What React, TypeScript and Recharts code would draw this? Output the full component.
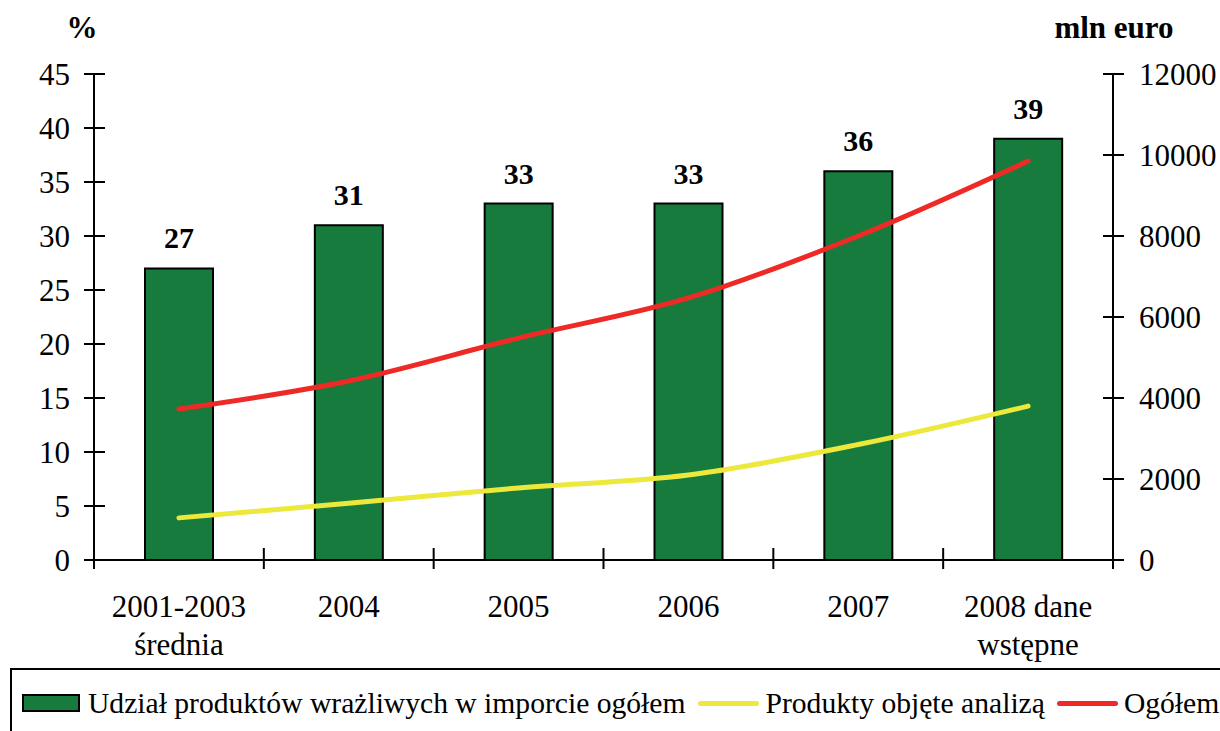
import React from "react";
import {
  ComposedChart,
  Bar,
  Line,
  XAxis,
  YAxis,
  LabelList,
  Legend,
} from "recharts";

const categoryLines = [
  ["2001-2003", "średnia"],
  ["2004"],
  ["2005"],
  ["2006"],
  ["2007"],
  ["2008 dane", "wstępne"],
];
const categories = categoryLines.map((l) => l.join(" "));

// % share of sensitive products in total imports (left axis)
const shareValues = [27, 31, 33, 33, 36, 39];
// mln euro (right axis)
const analysedValues = [1040, 1400, 1780, 2100, 2850, 3800];
const totalValues = [3730, 4420, 5480, 6470, 8000, 9850];

const leftTicks = [0, 5, 10, 15, 20, 25, 30, 35, 40, 45];
const rightTicks = [0, 2000, 4000, 6000, 8000, 10000, 12000];

const seriesNames = {
  share: "Udział produktów wrażliwych w imporcie ogółem",
  analysed: "Produkty objęte analizą",
  total: "Ogółem",
};

const data = categories.map((c, i) => ({
  category: c,
  share: shareValues[i],
  analysed: analysedValues[i],
  total: totalValues[i],
}));

const FONT = "'Times New Roman', 'Liberation Serif', serif";
const GREEN = "#167b3d";
const YELLOW = "#ece83c";
const RED = "#ee2a26";

const W = 1220;
const H = 731;
const PLOT_LEFT = 94;
const PLOT_RIGHT = 1113;
const BAND = (PLOT_RIGHT - PLOT_LEFT) / categories.length;

function LeftTick(props: any) {
  const { x, y, payload } = props;
  const ax = x + 24;
  return (
    <g>
      <line x1={ax - 10} x2={ax + 11} y1={y} y2={y} stroke="#000" strokeWidth={2} />
      <text x={x} y={y} dy={11} textAnchor="end" fontSize={31} fontFamily={FONT} fill="#000">
        {payload.value}
      </text>
    </g>
  );
}

function RightTick(props: any) {
  const { x, y, payload } = props;
  const ax = x - 26;
  return (
    <g>
      <line x1={ax - 10} x2={ax + 11} y1={y} y2={y} stroke="#000" strokeWidth={2} />
      <text x={x} y={y} dy={11} textAnchor="start" fontSize={31} fontFamily={FONT} fill="#000">
        {payload.value}
      </text>
    </g>
  );
}

function CategoryTick(props: any) {
  const { x, y, index } = props;
  const lines = categoryLines[index] || [];
  const last = index === categories.length - 1;
  return (
    <g>
      <line x1={x - BAND / 2} x2={x - BAND / 2} y1={y - 12} y2={y + 9} stroke="#000" strokeWidth={2} />
      {last && (
        <line x1={x + BAND / 2} x2={x + BAND / 2} y1={y - 12} y2={y + 9} stroke="#000" strokeWidth={2} />
      )}
      <text x={x} y={y + 57} textAnchor="middle" fontSize={31} fontFamily={FONT} fill="#000">
        {lines.map((l, i) => (
          <tspan key={i} x={x} dy={i === 0 ? 0 : 38}>
            {l}
          </tspan>
        ))}
      </text>
    </g>
  );
}

function AxisTitle(props: any) {
  const { viewBox, value, side } = props;
  const x = side === "left" ? viewBox.x + viewBox.width - 12 : viewBox.x + 1;
  return (
    <text x={x} y={viewBox.y - 36} textAnchor="middle" fontSize={31} fontWeight="bold" fontFamily={FONT} fill="#000">
      {value}
    </text>
  );
}

function LegendBox() {
  const text: React.CSSProperties = { fontSize: 29.6, fontFamily: FONT, color: "#000", lineHeight: "30px" };
  const lineSwatch = (color: string): React.CSSProperties => ({
    display: "inline-block",
    width: 61,
    height: 5,
    borderRadius: 3,
    background: color,
    marginRight: 6,
  });
  return (
    <div
      style={{
        boxSizing: "border-box",
        width: 1230,
        height: 80,
        border: "2px solid #000",
        display: "flex",
        alignItems: "center",
        paddingLeft: 10,
        paddingBottom: 30,
        paddingTop: 20,
      }}
    >
      <span
        style={{
          display: "inline-block",
          width: 58,
          height: 18,
          boxSizing: "border-box",
          background: GREEN,
          border: "2px solid #000",
          marginRight: 8,
        }}
      />
      <span style={text}>{seriesNames.share}</span>
      <span style={{ width: 13 }} />
      <span style={lineSwatch(YELLOW)} />
      <span style={text}>{seriesNames.analysed}</span>
      <span style={{ width: 12 }} />
      <span style={lineSwatch(RED)} />
      <span style={text}>{seriesNames.total}</span>
    </div>
  );
}

function AxisTitleWrap(props: any) {
  return <AxisTitle {...props} />;
}

export default function App() {
  return (
    <div style={{ position: "absolute", left: 0, top: 0, width: W, height: H, background: "#fff", overflow: "hidden" }}>
      <ComposedChart
        width={W}
        height={H}
        data={data}
        margin={{ top: 74, left: PLOT_LEFT - 60, right: W - PLOT_RIGHT - 80, bottom: 111 }}
      >
        <XAxis
          dataKey="category"
          xAxisId="x"
          height={60}
          interval={0}
          tickSize={0}
          tickMargin={0}
          tick={<CategoryTick />}
          axisLine={{ stroke: "#000", strokeWidth: 2 }}
        />
        <YAxis
          yAxisId="left"
          orientation="left"
          width={60}
          domain={[0, 45]}
          ticks={leftTicks}
          interval={0}
          tickSize={0}
          tickMargin={24}
          tick={<LeftTick />}
          axisLine={{ stroke: "#000", strokeWidth: 2 }}
          label={<AxisTitleWrap value="%" side="left" />}
        />
        <YAxis
          yAxisId="right"
          orientation="right"
          width={80}
          domain={[0, 12000]}
          ticks={rightTicks}
          interval={0}
          tickSize={0}
          tickMargin={26}
          tick={<RightTick />}
          axisLine={{ stroke: "#000", strokeWidth: 2 }}
          label={<AxisTitleWrap value="mln euro" side="right" />}
        />
        <Bar
          xAxisId="x"
          yAxisId="left"
          dataKey="share"
          name={seriesNames.share}
          barSize={68}
          fill={GREEN}
          stroke="#000"
          strokeWidth={2}
          isAnimationActive={false}
        >
          <LabelList
            dataKey="share"
            position="top"
            offset={20}
            style={{ fontSize: 30, fontWeight: "bold", fontFamily: FONT, fill: "#000" }}
          />
        </Bar>
        <Line
          xAxisId="x"
          yAxisId="right"
          type="monotone"
          dataKey="analysed"
          name={seriesNames.analysed}
          stroke={YELLOW}
          strokeWidth={5}
          strokeLinecap="round"
          dot={false}
          activeDot={false}
          isAnimationActive={false}
        />
        <Line
          xAxisId="x"
          yAxisId="right"
          type="monotone"
          dataKey="total"
          name={seriesNames.total}
          stroke={RED}
          strokeWidth={5}
          strokeLinecap="round"
          dot={false}
          activeDot={false}
          isAnimationActive={false}
        />
        <Legend
          layout="horizontal"
          verticalAlign="middle"
          align="center"
          content={() => <LegendBox />}
          wrapperStyle={{ position: "absolute", left: 10, top: 668, width: 1230, height: 80 }}
        />
      </ComposedChart>
    </div>
  );
}
